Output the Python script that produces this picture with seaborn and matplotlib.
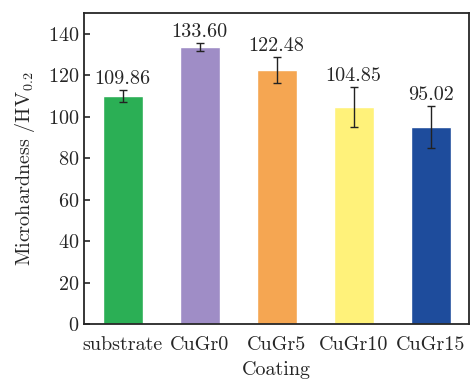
import pandas as pd
import matplotlib.pyplot as plt
import seaborn as sns

# values
coatings = ["substrate", "CuGr0", "CuGr5", "CuGr10", "CuGr15"]
hardness = [109.86, 133.60, 122.48, 104.85, 95.02]
errors = [3.0, 2.0, 6.4, 9.6, 10.3]
colors = ["#2BAF55", "#9F8DC6", "#F5A652", "#FFF27A", "#1E4C9C"]

df = pd.DataFrame({"Coating": coatings, "hv": hardness})

sns.set_style("ticks")
plt.rcParams["font.family"] = ["cmr10", "DejaVu Serif"]
plt.rcParams["mathtext.fontset"] = "cm"
plt.rcParams["axes.formatter.use_mathtext"] = True

fs = 14.5
fig, ax = plt.subplots(figsize=(4.72, 3.83), dpi=100)
sns.barplot(data=df, x="Coating", y="hv", hue="Coating", palette=colors,
            width=0.52, legend=False, ax=ax, saturation=1)
ax.errorbar(range(len(coatings)), hardness, yerr=errors, fmt="none",
            ecolor="#222222", elinewidth=1, capsize=3, capthick=1)

for i, (v, e) in enumerate(zip(hardness, errors)):
    ax.text(i, v + e + 1.0, f"{v:.2f}", ha="center", va="bottom", fontsize=fs)

ax.set_ylim(0, 150)
ax.set_xlim(-0.5, 4.5)
ax.set_yticks(range(0, 141, 20))
ax.set_xlabel("Coating", fontsize=fs, labelpad=5)
ax.set_ylabel(r"Microhardness /HV$_{0.2}$", fontsize=fs, labelpad=8)
ax.tick_params(direction="in", labelsize=fs, length=4, width=1.2)
ax.tick_params(axis="x", pad=9)
for s in ax.spines.values():
    s.set_linewidth(1.3)
    s.set_visible(True)

plt.subplots_adjust(left=0.178, right=0.994, top=0.966, bottom=0.154)
plt.savefig("out.png", dpi=100)
plt.close()
